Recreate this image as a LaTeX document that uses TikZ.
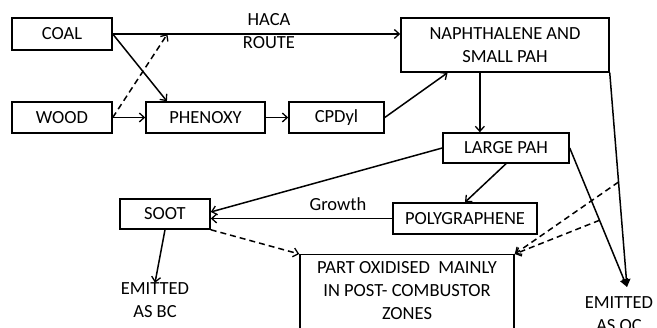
\documentclass[tikz,border=0pt]{standalone}
\usepackage{fontspec}
\setmainfont{Carlito}
\usetikzlibrary{arrows.meta,calc}
\begin{document}
\begin{tikzpicture}[x=1pt,y=-1pt,
  box/.style={draw,line width=1.5pt,inner sep=0pt,align=center},
  txt/.style={inner sep=0pt,align=center},
  arr/.style={line width=1.5pt,-{Straight Barb[length=5pt,width=9pt,line width=1.3pt]}},
  darr/.style={arr,dash pattern=on 6pt off 4pt},
  farr/.style={line width=1.5pt,-{Triangle[length=8pt,width=8pt]}},
  font=\fontsize{18.5}{23}\selectfont]
\useasboundingbox (0,0) rectangle (657,328);
\clip (0,0) rectangle (657,328);
\node[box,minimum width=100pt,minimum height=32pt] (coal) at (62,34) {COAL};
\node[box,minimum width=100pt,minimum height=31pt] (wood) at (62,117.5) {WOOD};
\node[box,minimum width=119pt,minimum height=31pt] (phenoxy) at (205.5,117.5) {PHENOXY};
\node[box,minimum width=95pt,minimum height=31pt] (cpdyl) at (336.5,117.5) {CPDyl};
\node[box,minimum width=208pt,minimum height=54pt] (naph) at (505,45) {NAPHTHALENE AND\\SMALL PAH};
\node[box,minimum width=126pt,minimum height=30pt] (largepah) at (506,148) {LARGE PAH};
\node[box,minimum width=144pt,minimum height=31pt] (poly) at (465,218.5) {POLYGRAPHENE};
\node[box,minimum width=90pt,minimum height=30pt] (soot) at (165,214) {SOOT};
\node[box,minimum width=214pt,minimum height=100pt,anchor=north] (partox) at (407,254) {};
\node[txt] (partoxtext) at (407,290.5) {PART OXIDISED\ \ MAINLY\\IN POST- COMBUSTOR\\ZONES};
\node[txt] (haca) at (269,31.5) {HACA\\ROUTE};
\node[txt] (growth) at (338,204) {Growth};
\node[txt] (emitbc) at (155,300.5) {EMITTED\\AS BC};
\node[txt] (emitoc) at (619,314) {EMITTED\\AS OC};
\coordinate (octip) at (627,287);
\coordinate (hacapt) at ($(coal.east)!0.19!(coal.east -| naph.west)$);
\coordinate (phtop) at ($(phenoxy.north west)!0.18!(phenoxy.north east)$);
\coordinate (naphcp) at ($(naph.south west)!0.226!(naph.south east)$);
\coordinate (naphdown) at ($(naph.south west)!0.38!(naph.south east)$);
\coordinate (p1) at ($(naph.south east)!0.51!(octip)$);
\coordinate (p2) at ($(largepah.east)!0.52!(octip)$);
\draw[arr] (coal.east) -- (coal.east -| naph.west);
\draw[arr] (coal.east) -- (phtop);
\draw[darr] (wood.east) -- (hacapt);
\draw[arr] (wood.east) -- (phenoxy.west);
\draw[arr] (phenoxy.east) -- (cpdyl.west);
\draw[arr] (cpdyl.east) -- (naphcp);
\draw[arr] (naphdown) -- (naphdown |- largepah.north);
\draw[farr] (naph.south east) -- (octip);
\draw[farr] (largepah.east) -- (octip);
\draw[arr] (largepah.south) -- (poly.north);
\draw[arr] (largepah.west) -- ($(soot.east)+(0,-2)$);
\draw[arr] (poly.west) -- (poly.west -| soot.east);
\draw[arr] (soot.south) -- (emitbc.north);
\draw[darr] (soot.south east) -- (partox.north west);
\draw[darr] (p1) -- (partox.north east);
\draw[darr] (p2) -- (partox.north east);
\end{tikzpicture}
\end{document}
